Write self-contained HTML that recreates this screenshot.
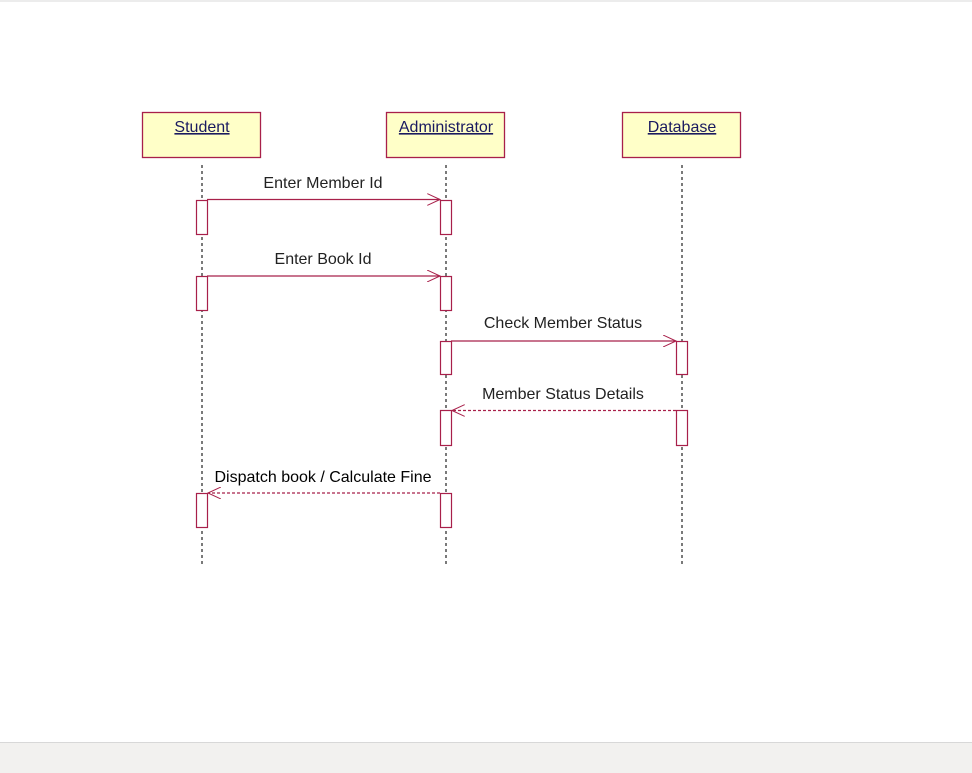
<!DOCTYPE html>
<html><head><style>
body{margin:0;width:972px;height:772px;background:#fff;overflow:hidden;position:relative;font-family:"Liberation Sans",Arial,sans-serif}
.bar{position:absolute;left:0;top:742px;width:972px;height:30px;background:#f2f1ef;border-top:1px solid #d8d8d8}
.top{position:absolute;left:0;top:0;width:972px;height:2px;background:#ececec}
</style></head><body>
<div class="top"></div>
<svg width="972" height="742" style="position:absolute;left:0;top:0" font-family="Liberation Sans, Arial, sans-serif">
<defs>
<marker id="a" markerWidth="14" markerHeight="12" refX="13" refY="6" orient="auto" markerUnits="userSpaceOnUse"><path d="M0,0 L13,6 L0,12" fill="none" stroke="#a8204a" stroke-width="1"/></marker>
</defs>
<g stroke="#a8204a" fill="#ffffc8" stroke-width="1.3">
<rect x="142.5" y="112.5" width="118" height="45"/>
<rect x="386.5" y="112.5" width="118" height="45"/>
<rect x="622.5" y="112.5" width="118" height="45"/>
</g>
<g font-size="16" fill="#1a1a60" text-anchor="middle" text-decoration="underline">
<text x="202" y="132">Student</text>
<text x="446" y="132">Administrator</text>
<text x="682" y="132">Database</text>
</g>
<g stroke="#222" stroke-dasharray="3,3" stroke-width="1.2">
<line x1="202" y1="165" x2="202" y2="565"/>
<line x1="446" y1="165" x2="446" y2="565"/>
<line x1="682" y1="165" x2="682" y2="565"/>
</g>
<g stroke="#a8204a" fill="#fff" stroke-width="1.2">
<rect x="196.5" y="200.5" width="11" height="34"/>
<rect x="196.5" y="276.5" width="11" height="34"/>
<rect x="196.5" y="493.5" width="11" height="34"/>
<rect x="440.5" y="200.5" width="11" height="34"/>
<rect x="440.5" y="276.5" width="11" height="34"/>
<rect x="440.5" y="341.5" width="11" height="33"/>
<rect x="440.5" y="410.5" width="11" height="35"/>
<rect x="440.5" y="493.5" width="11" height="34"/>
<rect x="676.5" y="341.5" width="11" height="33"/>
<rect x="676.5" y="410.5" width="11" height="35"/>
</g>
<g stroke="#a8204a" stroke-width="1.2" fill="none">
<line x1="207" y1="199.5" x2="440" y2="199.5" marker-end="url(#a)"/>
<line x1="207" y1="276" x2="440" y2="276" marker-end="url(#a)"/>
<line x1="451" y1="341" x2="676" y2="341" marker-end="url(#a)"/>
<line x1="676" y1="410.5" x2="452" y2="410.5" stroke-dasharray="3,2" marker-end="url(#a)"/>
<line x1="440" y1="493" x2="208" y2="493" stroke-dasharray="3,2" marker-end="url(#a)"/>
</g>
<g font-size="16" fill="#222" text-anchor="middle">
<text x="323" y="188">Enter Member Id</text>
<text x="323" y="264">Enter Book Id</text>
<text x="563" y="328">Check Member Status</text>
<text x="563" y="399">Member Status Details</text>
<text x="323" y="482" fill="#000">Dispatch book / Calculate Fine</text>
</g>
</svg>
<div class="bar"></div>
</body></html>
